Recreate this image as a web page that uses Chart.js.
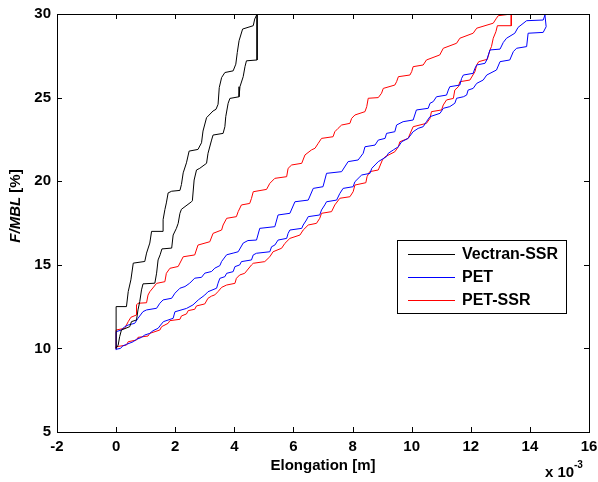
<!DOCTYPE html>
<html>
<head>
<meta charset="utf-8">
<script src="https://cdn.jsdelivr.net/npm/chart.js@4.4.0/dist/chart.umd.min.js"></script>
<style>
  html, body { margin: 0; padding: 0; background: #fff; }
  #wrap { width: 598px; height: 482px; }
</style>
</head>
<body>
<div id="wrap"><canvas id="chart" width="598" height="482"></canvas></div>
<script>
// tick values
const xTicks = [-2, 0, 2, 4, 6, 8, 10, 12, 14, 16];
const yTicks = [5, 10, 15, 20, 25, 30];

// Vectran-SSR loop [elongation x1e-3 m, F/MBL %]
const vectranSsr = [
  [0,10],[0,12.5],[0.35,12.5],[0.41,13.4],[0.5,14.1],[0.58,15.1],[0.97,15.2],[1.03,15.7],[1.14,16.3],[1.2,17.0],
  [1.59,17.0],[1.59,17.7],[1.65,18.3],[1.7,18.7],[1.76,19.3],[1.88,19.4],[2.16,19.45],[2.21,19.8],[2.27,20.5],[2.38,21.1],
  [2.47,21.8],[2.77,21.9],[2.89,22.3],[2.94,23.0],[3.06,23.8],[3.28,24.2],[3.38,24.3],[3.45,24.6],[3.49,25.6],[3.57,26.2],
  [3.68,26.5],[3.96,26.6],[4.05,27.0],[4.1,27.7],[4.16,28.4],[4.28,29.1],[4.64,29.3],[4.69,29.7],[4.77,30],
  [4.77,27.25],[4.41,27.2],[4.36,26.85],[4.3,26.25],[4.19,25.65],[4.16,25.05],[3.85,24.95],[3.79,24.66],[3.71,23.86],
  [3.68,23.26],[3.62,22.86],[3.28,22.76],[3.23,22.46],[3.11,21.67],[3.06,21.07],[2.83,20.77],[2.72,20.67],[2.64,20.07],
  [2.58,18.83],[2.55,18.77],[2.21,18.32],[2.16,18.08],[2.1,17.48],[2.04,17.18],[1.93,16.78],[1.88,16.0],[1.55,15.95],
  [1.49,15.6],[1.42,15.29],[1.37,14.5],[1.31,13.9],[0.91,13.86],[0.86,13.5],[0.8,12.8],[0.74,12.3],[0.69,11.7],
  [0.52,11.6],[0.46,11.3],[0.18,11.1],[0.12,10.7],[0.07,10.2],[0,10]
];

// PET loop
const pet = [
  [0,9.9],[0,11.0],[0.18,11.1],[0.29,11.3],[0.41,11.4],[0.63,11.5],[0.74,11.8],[0.91,12.2],[1.03,12.3],[1.37,12.4],
  [1.48,12.7],[1.59,12.9],[1.88,13.0],[1.99,13.3],[2.16,13.6],[2.33,13.7],[2.49,13.9],[2.66,14.2],[2.89,14.25],[3.0,14.5],
  [3.23,14.6],[3.34,14.8],[3.51,14.95],[3.57,15.2],[3.74,15.6],[3.96,15.7],[4.13,15.78],[4.3,16.3],[4.46,16.45],[4.75,16.48],
  [4.86,17.18],[5.37,17.28],[5.48,17.98],[5.88,18.08],[6.05,18.77],[6.5,18.87],[6.67,19.57],[7.0,19.67],[7.12,20.47],
  [7.63,20.57],[7.85,21.17],[8.19,21.27],[8.36,21.67],[8.42,22.06],[8.76,22.16],[8.87,22.46],[9.1,22.56],[9.15,22.86],
  [9.43,22.96],[9.49,23.36],[9.71,23.56],[10.05,23.66],[10.16,24.26],[10.56,24.36],[10.62,24.66],[10.73,24.76],[10.84,25.05],
  [11.18,25.15],[11.24,25.45],[11.29,25.65],[11.63,25.75],[11.69,26.15],[11.75,26.35],[12.08,26.45],[12.14,26.75],[12.2,26.95],
  [12.48,27.05],[12.54,27.25],[12.65,27.85],[12.99,27.9],[13.1,28.3],[13.21,28.55],[13.49,28.85],[13.6,29.2],[13.89,29.6],
  [14.45,29.64],[14.51,29.94],
  [14.55,29.24],[14.45,28.9],[13.94,28.85],[13.89,28.05],[13.55,27.95],[13.44,27.75],[13.32,27.25],[12.99,27.15],[12.87,26.65],
  [12.54,26.35],[12.42,26.05],[12.2,25.85],[12.08,25.55],[11.91,25.45],[11.86,25.15],[11.75,25.05],[11.52,24.96],[11.46,24.66],
  [11.29,24.46],[11.07,24.36],[10.96,24.06],[10.62,23.86],[10.5,23.56],[10.39,23.26],[10.22,23.16],[10.05,22.96],[9.88,22.56],
  [9.66,22.36],[9.55,22.06],[9.38,21.87],[9.21,21.67],[9.15,21.47],[8.87,21.17],[8.76,20.97],[8.65,20.77],[8.59,20.47],
  [8.31,20.37],[8.25,20.27],[8.08,19.97],[8.02,19.67],[7.68,19.57],[7.57,19.27],[7.46,18.87],[7.12,18.77],[7.06,18.58],
  [6.95,18.28],[6.89,17.98],[6.5,17.88],[6.44,17.68],[6.33,17.38],[6.28,17.18],[5.88,17.08],[5.82,16.88],[5.77,16.58],
  [5.48,16.48],[5.37,16.18],[5.26,16.08],[5.2,15.78],[4.75,15.69],[4.64,15.59],[4.58,15.29],[4.24,15.19],[4.18,14.99],
  [4.02,14.89],[3.96,14.59],[3.74,14.49],[3.68,14.29],[3.51,14.19],[3.45,13.9],[3.4,13.6],[3.11,13.39],[3.0,13.19],
  [2.78,12.9],[2.6,12.6],[2.38,12.39],[1.99,12.19],[1.93,11.8],[1.6,11.6],[1.48,11.34],[1.42,11.2],[1.25,11.06],
  [1.14,10.9],[0.97,10.8],[0.86,10.66],[0.69,10.54],[0.58,10.4],[0.35,10.24],[0.22,10.14],[0.15,10.0],[0,9.95]
];

// PET-SSR loop
const petSsr = [
  [0,10],[0,11.1],[0.29,11.2],[0.41,11.6],[0.5,11.86],[0.69,12.0],[0.69,12.6],[0.74,12.7],[1.03,12.73],[1.08,13.19],
  [1.14,13.39],[1.37,13.89],[1.65,13.99],[1.7,14.49],[1.82,14.79],[2.1,14.9],[2.27,15.48],[2.66,15.59],[2.77,16.18],
  [3.17,16.38],[3.28,16.88],[3.57,17.08],[3.62,17.38],[3.74,17.78],[4.07,17.88],[4.13,18.18],[4.24,18.58],[4.52,18.67],
  [4.58,18.97],[4.64,19.37],[5.09,19.51],[5.2,19.87],[5.37,20.17],[5.77,20.27],[5.82,20.77],[5.94,20.97],[6.28,21.07],
  [6.39,21.57],[6.61,21.87],[6.73,21.97],[6.84,22.27],[6.95,22.56],[7.34,22.66],[7.4,22.96],[7.51,23.16],[7.63,23.36],
  [7.91,23.46],[7.97,23.76],[8.08,23.96],[8.42,24.16],[8.48,24.46],[8.53,24.96],[8.87,25.0],[8.98,25.26],[9.04,25.55],
  [9.43,25.75],[9.49,25.95],[9.55,26.25],[9.94,26.35],[10.0,26.55],[10.05,26.85],[10.39,26.95],[10.5,27.25],[10.95,27.55],
  [11.07,27.95],[11.52,28.25],[11.63,28.55],[12.08,28.85],[12.2,29.15],[12.76,29.45],[12.87,29.75],[12.93,29.9],[13.37,30],
  [13.37,29.3],[12.9,29.3],[12.85,28.94],[12.76,28.55],[12.7,28.05],[12.65,27.85],[12.56,27.29],[12.27,27.15],[12.2,26.95],
  [12.14,26.55],[11.97,26.05],[11.63,25.95],[11.58,25.65],[11.46,25.45],[11.41,24.95],[11.18,24.86],[11.07,24.56],
  [11.01,24.26],[10.67,24.16],[10.62,23.76],[10.5,23.46],[10.05,23.26],[10.0,23.06],[9.88,22.56],[9.6,22.36],[9.55,22.06],
  [9.43,21.76],[9.1,21.46],[9.01,21.27],[8.94,20.97],[8.87,20.67],[8.58,20.57],[8.49,20.27],[8.45,19.91],[8.08,19.77],
  [8.02,19.37],[7.91,19.07],[7.57,18.98],[7.4,18.58],[7.29,18.18],[6.95,18.08],[6.89,17.78],[6.78,17.48],[6.5,17.38],
  [6.33,17.08],[6.22,16.78],[5.88,16.58],[5.71,16.28],[5.6,15.99],[5.31,15.78],[5.2,15.48],[5.03,15.19],[4.64,15.09],
  [4.58,14.99],[4.35,14.49],[4.18,14.39],[4.07,14.19],[4.02,13.89],[3.74,13.79],[3.57,13.65],[3.45,13.4],[3.34,13.2],
  [3.23,13.13],[3.11,13.0],[3.0,12.66],[2.72,12.54],[2.66,12.34],[2.44,12.26],[2.38,12.06],[2.21,11.94],[2.16,11.74],
  [1.82,11.66],[1.76,11.5],[1.54,11.3],[1.48,11.1],[1.14,10.9],[1.08,10.74],[0.74,10.66],[0.69,10.5],[0.41,10.4],
  [0.35,10.2],[0.01,10.1],[0,10]
];

const seriesNames = ["Vectran-SSR", "PET", "PET-SSR"];
const seriesColors = ["#000000", "#0000ff", "#ff0000"];
const seriesData = [vectranSsr, pet, petSsr];

const FONT = "'Liberation Sans', Arial, sans-serif";

const toPoints = arr => arr.map(p => ({ x: p[0], y: p[1] }));

// box, inward ticks, legend and extra labels (matlab look)
const matlabFrame = {
  id: "matlabFrame",
  afterDraw(chart) {
    const ctx = chart.ctx;
    const a = chart.chartArea;
    const xs = chart.scales.x, ys = chart.scales.y;
    ctx.save();
    ctx.strokeStyle = "#000";
    ctx.lineWidth = 1;
    ctx.strokeRect(Math.round(a.left) + 0.5, Math.round(a.top) + 0.5,
      Math.round(a.right - a.left), Math.round(a.bottom - a.top));
    ctx.beginPath();
    xTicks.forEach(v => {
      const px = Math.round(xs.getPixelForValue(v)) + 0.5;
      ctx.moveTo(px, a.bottom); ctx.lineTo(px, a.bottom - 5);
      ctx.moveTo(px, a.top); ctx.lineTo(px, a.top + 5);
    });
    yTicks.forEach(v => {
      const py = Math.round(ys.getPixelForValue(v)) + 0.5;
      ctx.moveTo(a.left, py); ctx.lineTo(a.left + 5, py);
      ctx.moveTo(a.right, py); ctx.lineTo(a.right - 5, py);
    });
    ctx.stroke();

    // legend
    const lx = 397, ly = 240, lw = 169, lh = 73;
    ctx.fillStyle = "#fff";
    ctx.fillRect(lx, ly, lw, lh);
    ctx.strokeRect(lx + 0.5, ly + 0.5, lw, lh);
    ctx.font = "bold 16px " + FONT;
    ctx.textBaseline = "middle";
    ctx.textAlign = "left";
    seriesNames.forEach((name, i) => {
      const yy = ly + 14 + i * 23;
      ctx.strokeStyle = seriesColors[i];
      ctx.beginPath();
      ctx.moveTo(lx + 11, yy + 0.5); ctx.lineTo(lx + 58, yy + 0.5);
      ctx.stroke();
      ctx.fillStyle = "#000";
      ctx.fillText(name, lx + 65, yy + 1);
    });

    // x axis title and exponent
    ctx.font = "bold 15px " + FONT;
    ctx.fillStyle = "#000";
    ctx.textAlign = "center";
    ctx.fillText("Elongation [m]", (a.left + a.right) / 2, 466);
    ctx.textAlign = "left";
    ctx.fillText("x 10", 545, 473);
    ctx.font = "bold 10px " + FONT;
    ctx.fillText("-3", 574, 465);

    // y axis title, rotated
    ctx.translate(16, 206);
    ctx.rotate(-Math.PI / 2);
    const partA = "F/MBL", partB = " [%]";
    ctx.font = "italic bold 15px " + FONT;
    const wA = ctx.measureText(partA).width;
    ctx.font = "bold 15px " + FONT;
    const wB = ctx.measureText(partB).width;
    let sx = -(wA + wB) / 2;
    ctx.font = "italic bold 15px " + FONT;
    ctx.fillText(partA, sx, 0);
    ctx.font = "bold 15px " + FONT;
    ctx.fillText(partB, sx + wA, 0);
    ctx.restore();
  }
};

new Chart(document.getElementById("chart"), {
  type: "scatter",
  data: {
    datasets: seriesNames.map((name, i) => ({
      label: name,
      data: toPoints(seriesData[i]),
      showLine: true,
      borderColor: seriesColors[i],
      borderWidth: 1,
      pointRadius: 0,
      tension: 0,
      fill: false
    }))
  },
  options: {
    responsive: false,
    animation: false,
    layout: { padding: { top: 14, right: 9, left: 0, bottom: 0 } },
    plugins: { legend: { display: false }, tooltip: { enabled: false } },
    scales: {
      x: {
        type: "linear", min: -2, max: 16,
        afterBuildTicks: s => { s.ticks = xTicks.map(v => ({ value: v })); },
        afterFit: s => { s.height = 50; s.paddingLeft = 0; s.paddingRight = 0; },
        grid: { display: false, drawTicks: false },
        border: { display: false },
        ticks: { color: "#000", padding: 6, maxRotation: 0, font: { family: FONT, size: 15, weight: "bold" } }
      },
      y: {
        type: "linear", min: 5, max: 30,
        afterBuildTicks: s => { s.ticks = yTicks.map(v => ({ value: v })); },
        afterFit: s => { s.width = 57; s.paddingTop = 0; s.paddingBottom = 0; },
        grid: { display: false, drawTicks: false },
        border: { display: false },
        ticks: { color: "#000", padding: 6, font: { family: FONT, size: 15, weight: "bold" } }
      }
    }
  },
  plugins: [matlabFrame]
});
</script>
</body>
</html>
